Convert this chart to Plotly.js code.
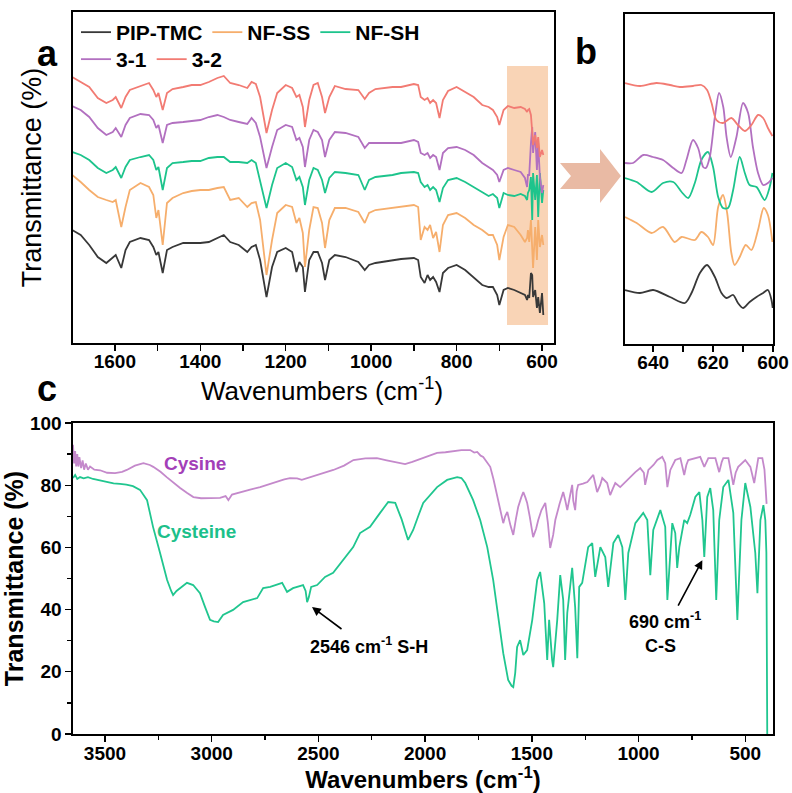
<!DOCTYPE html>
<html><head><meta charset="utf-8">
<script src="https://cdn.plot.ly/plotly-3.0.1.min.js"></script>
<style>html,body{margin:0;padding:0;background:#fff}#chart{width:792px;height:793px}</style>
</head><body><div id="chart"></div>
<script>
// ---------- Panel a: FTIR spectra (arbitrary offset units) ----------
const waveA = [1700,1680,1660,1640,1620,1605,1598,1585,1575,1565,1540,1520,1510,1503,1498,1488,1478,1465,1440,1420,
  1400,1380,1360,1345,1330,1310,1290,1280,1270,1260,1245,1232,1220,1200,1185,1175,1168,1160,1155,1145,
  1135,1125,1115,1108,1098,1085,1060,1030,1015,1005,990,950,930,900,890,884,875,868,862,855,
  848,840,832,820,800,780,760,740,725,715,705,700,690,680,665,650,640,635,633,630,
  626,623,621,616,612,609,605,600,597];
const pipTMC = [113,108,98,86,80,86,88,75,93,101,105,103,96,88,91,70,93,96,100,100,
  100,101,105,108,101,98,91,96,98,83,46,76,91,95,91,71,81,76,51,83,
  91,91,80,63,83,88,86,81,73,78,80,83,84,85,83,66,60,68,63,66,
  61,51,70,75,78,73,65,58,56,56,48,38,53,55,53,50,48,43,48,45,
  70,68,46,53,35,46,30,50,28];
const nfSS = [168,161,153,146,143,141,143,116,136,153,160,156,148,125,133,98,140,145,150,152,
  153,153,155,156,143,145,136,140,141,123,68,103,130,138,136,120,125,110,76,113,
  136,135,120,95,123,135,135,131,120,130,133,135,136,138,136,103,116,113,118,105,
  111,91,118,128,130,125,118,113,108,108,98,83,106,118,116,108,101,105,113,101,
  123,96,75,116,83,123,96,108,98];
const nfSH = [191,188,183,175,170,173,176,165,176,183,186,188,183,173,176,153,175,180,181,182,
  182,185,186,186,181,181,180,183,180,163,135,158,175,180,176,163,166,156,138,163,
  175,173,163,150,165,171,170,168,153,163,166,168,170,171,170,161,156,158,153,156,
  153,141,155,163,165,161,156,151,147,149,145,135,150,148,147,149,147,143,150,153,
  166,123,170,143,168,126,170,140,153];
const s31 = [237,233,226,215,208,211,215,206,218,225,229,228,223,215,218,200,218,220,221,222,
  223,226,228,226,223,221,219,225,220,206,175,196,213,218,216,203,205,196,176,203,
  213,211,203,186,203,211,210,206,195,200,200,200,200,203,201,190,188,190,185,188,
  186,173,190,195,196,193,188,180,176,173,168,161,173,175,173,171,165,156,168,168,
  200,216,190,211,173,200,166,150,158];
const s32 = [266,261,256,245,240,243,246,235,246,253,257,260,253,246,250,233,250,254,256,258,
  258,261,265,267,260,258,255,261,259,246,210,233,250,258,255,246,248,236,216,243,
  258,260,246,230,246,257,254,253,244,250,254,256,256,259,258,246,243,245,240,243,
  240,225,243,252,256,251,246,238,236,233,226,218,233,237,235,236,234,231,233,234,
  228,211,198,208,195,206,186,193,188];

// ---------- Panel b: zoom 650-600 cm-1 ----------
const pipBx = [649.4,644.4,640,634.4,629.4,627.2,624.4,622,619.4,617.2,615.5,613.3,611.7,610,607.8,605.5,603.3,601.7,600.5,600.1];
const pipBy = [54,51,54,47,41,51,71,79,67,51,46,49,41,36,42,47,51,54,44,36];
const ssBx = [649.4,645.5,640.5,636.7,632.8,630.5,626.1,623.9,621.7,620,618.3,616.7,615.3,613.9,612.8,611.1,609.1,607.2,605,603.1,601.7,600.2];
const ssBy = [127,121,111,117,102,107,104,112,107,99,137,149,131,91,79,87,99,94,114,136,129,102];
const shBx = [649.4,645.5,640.5,636.7,633.3,630.5,628.3,626.1,623.9,621.7,620,618.3,616.7,615,613.3,611.1,609.4,607.8,605.5,602.8,601.1,600.2];
const shBy = [166,162,152,161,162,152,146,161,184,192,177,147,136,136,154,187,171,159,157,144,157,171];
const s31Bx = [649.4,646.7,643.3,640,636.7,633.3,630.5,628.9,626.7,625,623.3,622.4,621.1,619.4,618,616.6,615.5,614.1,612.2,610,608.3,606.7,605,603.3,601.7,600.2];
const s31By = [181,181,189,187,184,176,171,184,204,196,177,176,187,227,251,237,207,187,207,241,231,197,171,159,161,166];
const s32Bx = [649.4,644.4,638.9,634.4,631.1,626.7,623.9,622,620.5,618.9,616.7,613.9,611.7,609.4,607.2,605,603.3,601.7,600.2];
const s32By = [261,258,261,259,257,258,259,254,241,224,221,226,219,213,219,229,226,216,208];

// ---------- Panel c: Cysine / Cysteine ----------
const cysineX = [3650,3645,3640,3635,3630,3625,3620,3612,3605,3598,3590,3580,3570,3550,3523,3490,3453,3420,3398,3360,
  3320,3290,3274,3240,3211,3180,3148,3115,3086,3050,3023,2990,2961,2935,2922,2905,2867,2820,2773,2735,
  2695,2660,2633,2600,2578,2540,2507,2470,2430,2380,2336,2280,2226,2180,2150,2117,2094,2060,2023,1985,
  1944,1905,1869,1830,1789,1770,1756,1740,1728,1712,1695,1680,1672,1658,1645,1634,1625,1615,1600,1587,
  1575,1564,1550,1540,1530,1522,1510,1494,1480,1470,1455,1437,1425,1414,1400,1390,1370,1353,1343,1334,
  1320,1311,1306,1297,1290,1283,1260,1240,1212,1194,1180,1170,1147,1133,1120,1109,1086,1070,1053,1030,
  1015,992,975,969,960,954,930,912,889,875,865,858,851,828,804,786,776,767,740,711,
  692,680,673,640,622,610,603,579,556,545,533,500,476,458,448,439,420,410,406,400];
const cysineY = [93,87,91,86,90,86,89,85.5,88,85,87,85,86,85,84.8,84,83.9,84.3,84.9,86.3,
  87.1,86.5,85.9,84.3,82.6,80.8,79.1,77.5,76.2,75.8,75.9,75.8,75.9,76.5,75.2,77,77.8,78.6,79.4,80.3,
  81,81.9,82.3,82.2,81.7,82.5,83.3,84,84.9,86.3,88.1,88.6,88.7,88,87.5,87.1,86.8,87.5,88.4,89.5,
  90.4,90.6,91,91.3,91.3,90.5,90.7,89.5,89.1,87.5,85.9,82,79.4,75.2,71,67.8,70,71.4,67,64,
  69,73,76,77.8,76,74.3,70,63.3,66,68.8,72,74.3,68,59.8,64,68.8,74,77.8,75,72,
  77,80.1,75,72,78,80.1,80.5,81,83.3,77.8,80,82.3,80.7,76.8,79,80.7,79.4,80.5,81.7,83,
  84.2,85.5,84,80.1,83,84.9,86.5,88.1,89.1,87.1,79.4,83,84.9,88.1,88.7,83.3,86.5,88.1,88.5,89.1,
  85.9,88,88.7,88.7,84.2,87.5,88.7,88.7,80.1,84,85.9,88.1,85.9,80.7,85,88.7,88.7,85,80.7,74];
const cysteineX = [3650,3640,3630,3617,3600,3580,3556,3520,3491,3460,3430,3400,3369,3336,3303,3290,3275,3242,3209,3190,
  3181,3165,3148,3116,3087,3055,3031,3008,2990,2970,2947,2925,2900,2853,2787,2759,2726,2670,2647,2619,
  2572,2560,2553,2545,2534,2506,2469,2431,2384,2337,2305,2258,2211,2173,2140,2110,2080,2056,2030,2009,
  1944,1897,1850,1830,1812,1775,1742,1709,1681,1658,1634,1611,1595,1587,1578,1569,1555,1540,1522,1498,
  1475,1461,1442,1428,1419,1405,1400,1381,1367,1353,1344,1334,1311,1297,1287,1278,1264,1236,1217,1203,
  1179,1156,1142,1118,1095,1076,1062,1048,1015,978,959,945,931,898,875,865,842,828,819,809,
  786,772,758,734,715,701,692,678,664,650,636,622,603,579,556,537,518,500,476,453,
  443,429,415,406,401,397];
const cysteineY = [82.3,83.3,82,82.6,82.2,82.6,82,81.5,81,80.6,80.4,80.2,79.7,78.5,75.2,71,66.6,58.2,49.5,46,
  44.7,46,46.9,48.6,47.9,45.3,40.8,36.7,36.2,36,38.3,39,39.9,42.4,43.7,46.9,47.3,48.6,45.7,46.9,
  47.9,46,42.4,44,47.3,47.9,50.5,51.8,55.9,60.1,64.6,66.6,71.1,74.6,74.3,69,62.4,65.6,70.5,74.3,
  79.4,81.7,82.6,82.3,80.7,75.2,68.8,60.1,49.5,37.6,26,17.4,15.5,15.1,19.6,28,30.2,25.4,27,36.7,
  49.5,52.1,42.1,23.8,36.7,23.8,21.5,36.7,51.1,43.1,23.8,38.9,53.4,40.8,24.4,47.3,48.6,60.1,61.4,50.5,
  60.1,56.9,47.3,61.4,64,60.1,43.1,58.2,67.8,71.1,68.8,51.1,65.6,72,66.6,43.1,67.8,64.6,53.4,60.1,
  68.8,67.8,70.4,76.2,77.8,68.8,56.9,76.2,79.1,72,43.1,68.8,79.4,81.7,71.1,36.7,68.8,80.7,73,58.2,
  45.3,68.8,73.6,68.8,58.2,0];

const FONT = 'Liberation Sans, Arial, Helvetica, sans-serif';
const C = {pip:'#383838', ss:'#F6AE6C', sh:'#1DC48C', s31:'#B270C0', s32:'#F27B73',
           cysL:'#C489CB', cysT:'#A33FB8', cyeL:'#20C68F', cyeT:'#1CC08A'};
const X = p => p/792, Y = p => 1 - p/793;

const tr = (x, y, name, col, xa, ya, extra) => Object.assign({
  x: x, y: y, name: name, type: 'scatter', mode: 'lines', xaxis: xa, yaxis: ya,
  line: {color: col, width: 1.8}, hoverinfo: 'skip'}, extra || {});
const sp = col => ({showlegend: false, line: {color: col, width: 1.8, shape: 'spline', smoothing: 0.8}});

const data = [
  tr(waveA, pipTMC, 'PIP-TMC', C.pip, 'x', 'y'),
  tr(waveA, nfSS, 'NF-SS', C.ss, 'x', 'y'),
  tr(waveA, nfSH, 'NF-SH', C.sh, 'x', 'y'),
  tr(waveA, s31, '3-1', C.s31, 'x', 'y', {legend: 'legend2'}),
  tr(waveA, s32, '3-2', C.s32, 'x', 'y', {legend: 'legend2'}),
  tr(pipBx, pipBy, 'PIP-TMC', C.pip, 'x2', 'y2', sp(C.pip)),
  tr(ssBx, ssBy, 'NF-SS', C.ss, 'x2', 'y2', sp(C.ss)),
  tr(shBx, shBy, 'NF-SH', C.sh, 'x2', 'y2', sp(C.sh)),
  tr(s31Bx, s31By, '3-1', C.s31, 'x2', 'y2', sp(C.s31)),
  tr(s32Bx, s32By, '3-2', C.s32, 'x2', 'y2', sp(C.s32)),
  tr(cysineX, cysineY, 'Cysine', C.cysL, 'x3', 'y3', {showlegend: false}),
  tr(cysteineX, cysteineY, 'Cysteine', C.cyeL, 'x3', 'y3', {showlegend: false})
];

const tickF = {family: FONT, size: 19, color: '#000', weight: 'bold'};
const axBase = {showline: true, linecolor: '#000', linewidth: 1.6, mirror: true, zeroline: false,
  showgrid: false, ticks: 'outside', ticklen: 6, tickwidth: 1.4, tickcolor: '#000', tickfont: tickF};
const legF = {family: FONT, size: 21, color: '#000', weight: 'bold'};

const layout = {
  width: 792, height: 793, margin: {l:0, r:0, t:0, b:0}, paper_bgcolor: '#fff', plot_bgcolor: '#fff',
  showlegend: true,
  xaxis: Object.assign({}, axBase, {domain: [X(73), X(554)], anchor: 'y', range: [1698, 572],
    dtick: 200, tick0: 0, ticklabelstandoff: -5,
    minor: {dtick: 100, ticks: 'outside', ticklen: 6, tickcolor: '#000', tickwidth: 1.4}}),
  yaxis: Object.assign({}, axBase, {domain: [Y(343), Y(12)], anchor: 'x', range: [0, 331],
    ticks: '', showticklabels: false,
    title: {text: 'Transmittance (%)', font: {family: FONT, size: 27, color: '#000'}, standoff: 22}}),
  xaxis2: Object.assign({}, axBase, {domain: [X(625), X(773)], anchor: 'y2', range: [649.4, 600],
    dtick: 20, tick0: 0, ticklabelstandoff: -5,
    minor: {dtick: 10, ticks: 'outside', ticklen: 6, tickcolor: '#000', tickwidth: 1.4}}),
  yaxis2: Object.assign({}, axBase, {domain: [Y(344), Y(14)], anchor: 'x2', range: [0, 330],
    ticks: '', showticklabels: false}),
  xaxis3: Object.assign({}, axBase, {domain: [X(73), X(773)], anchor: 'y3', range: [3650, 370],
    dtick: 500, tick0: 0, ticklabelstandoff: -4,
    minor: {dtick: 250, ticks: 'outside', ticklen: 4, tickcolor: '#000', tickwidth: 1.4},
    title: {text: '<b>Wavenumbers (cm<sup>-1</sup>)</b>', font: {family: FONT, size: 24, color: '#000'}, standoff: 5}}),
  yaxis3: Object.assign({}, axBase, {domain: [Y(734), Y(423)], anchor: 'x3', range: [0, 100],
    dtick: 20, tick0: 0,
    minor: {dtick: 10, ticks: 'outside', ticklen: 4, tickcolor: '#000', tickwidth: 1.4},
    title: {text: '<b>Transmittance (%)</b>', font: {family: FONT, size: 25, color: '#000'}, standoff: 0}}),
  legend: {orientation: 'h', x: X(76), y: Y(12), xanchor: 'left', yanchor: 'top', bgcolor: 'rgba(0,0,0,0)',
    font: legF, itemwidth: 30, tracegroupgap: 0},
  legend2: {orientation: 'h', x: X(76), y: Y(39), xanchor: 'left', yanchor: 'top', bgcolor: 'rgba(0,0,0,0)',
    font: legF, itemwidth: 30},
  shapes: [
    {type: 'rect', xref: 'x', yref: 'y', x0: 682, x1: 586, y0: 18, y1: 277, fillcolor: '#F9D4B6',
     line: {width: 0}, layer: 'below'},
    {type: 'path', xref: 'paper', yref: 'paper', fillcolor: '#E9BAA4', line: {width: 0},
     path: 'M' + X(560) + ',' + Y(163) + ' L' + X(600) + ',' + Y(163) + ' L' + X(600) + ',' + Y(149) +
           ' L' + X(621) + ',' + Y(176) + ' L' + X(600) + ',' + Y(203) + ' L' + X(600) + ',' + Y(189) +
           ' L' + X(560) + ',' + Y(189) + ' L' + X(571) + ',' + Y(176) + ' Z'}
  ],
  annotations: [
    {xref: 'paper', yref: 'paper', x: X(322), y: Y(389), xanchor: 'center', yanchor: 'middle',
     text: 'Wavenumbers (cm<sup>-1</sup>)', showarrow: false, font: {family: FONT, size: 26, color: '#000'}},
    {xref: 'paper', yref: 'paper', x: X(35), y: Y(31), text: '<b>a</b>', showarrow: false,
     font: {family: FONT, size: 36, color: '#000'}},
    {xref: 'paper', yref: 'paper', x: X(599), y: Y(29), text: '<b>b</b>', showarrow: false,
     font: {family: FONT, size: 36, color: '#000'}},
    {xref: 'paper', yref: 'paper', x: X(35), y: Y(388), text: '<b>c</b>', showarrow: false,
     font: {family: FONT, size: 36, color: '#000'}},
    {xref: 'x3', yref: 'y3', x: 3078, y: 87.1, text: '<b>Cysine</b>', showarrow: false,
     font: {family: FONT, size: 19, color: C.cysT}},
    {xref: 'x3', yref: 'y3', x: 3069, y: 65.0, text: '<b>Cysteine</b>', showarrow: false,
     font: {family: FONT, size: 19, color: C.cyeT}},
    {xref: 'x3', yref: 'y3', x: 2548, y: 28.3, xanchor: 'left', text: '<b>2546 cm<sup>-1</sup> S-H</b>', showarrow: false,
     font: {family: FONT, size: 18, color: '#000'}},
    {xref: 'x3', yref: 'y3', x: 875, y: 36.4, text: '<b>690 cm<sup>-1</sup></b>', showarrow: false,
     font: {family: FONT, size: 18, color: '#000'}},
    {xref: 'x3', yref: 'y3', x: 898, y: 28.4, text: '<b>C-S</b>', showarrow: false,
     font: {family: FONT, size: 18, color: '#000'}},
    {xref: 'x3', yref: 'y3', x: 2530, y: 40.8, ax: 31, ay: 23, text: '', showarrow: true,
     arrowhead: 2, arrowsize: 1.1, arrowwidth: 1.6, arrowcolor: '#000'},
    {xref: 'x3', yref: 'y3', x: 701, y: 55.9, ax: -25, ay: 47, text: '', showarrow: true,
     arrowhead: 2, arrowsize: 1.1, arrowwidth: 1.6, arrowcolor: '#000'}
  ]
};

Plotly.newPlot('chart', data, layout, {staticPlot: true, displayModeBar: false});
</script></body></html>
